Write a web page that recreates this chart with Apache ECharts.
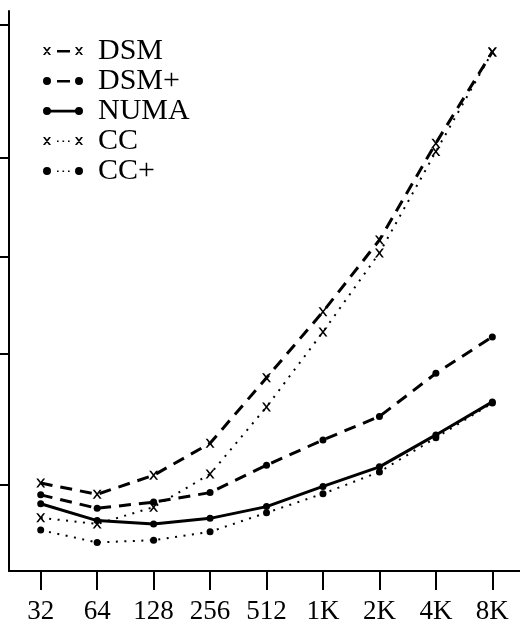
<!DOCTYPE html>
<html>
<head>
<meta charset="utf-8">
<script src="https://cdn.jsdelivr.net/npm/echarts@6/dist/echarts.min.js"></script>
<style>html,body{margin:0;padding:0;background:#fff;}#c{width:520px;height:630px;}</style>
</head>
<body>
<div id="c"></div>
<script>
// Categories (problem sizes)
var xLabels = ['32', '64', '128', '256', '512', '1K', '2K', '4K', '8K'];
// Series values (arbitrary linear units)
var dsm     = [15.7, 13.7, 17.1, 22.8, 34.5, 46.3, 59.1, 76.4, 92.7];
var dsmPlus = [13.6, 11.2, 12.3, 14.0, 18.9, 23.4, 27.6, 35.3, 41.8];
var numa    = [12.0,  9.0,  8.4,  9.4, 11.5, 15.1, 18.6, 24.3, 30.2];
var cc      = [ 9.5,  8.4, 11.4, 17.3, 29.3, 42.7, 56.8, 74.9, 92.7];
var ccPlus  = [ 7.3,  5.1,  5.5,  7.0, 10.4, 13.8, 17.7, 23.8, 30.0];
// Y tick positions (labels are cut off in the original)
var yTicks = [15.4, 38.8, 56.1, 73.8, 97.5];
var xTicks = [0, 1, 2, 3, 4, 5, 6, 7, 8];

function pts(arr) { return arr.map(function (v, i) { return [i, v]; }); }

var XSYM = 'path://M0,0L2.2,0L10,10L7.8,10ZM7.8,0L10,0L2.2,10L0,10Z';
var ICON_X = 'M0,2L2,2L8,10L6,10ZM6,2L8,2L2,10L0,10Z';
var ICON_X_R = 'M32,2L34,2L40,10L38,10ZM38,2L40,2L34,10L32,10Z';
var ICON_D = 'M0,6A4,4,0,1,1,8,6A4,4,0,1,1,0,6Z';
var ICON_D_R = 'M32,6A4,4,0,1,1,40,6A4,4,0,1,1,32,6Z';
var DASH = 'M14,5L27,5L27,7.4L14,7.4Z';
var DOTS = 'M14,5.5L15.6,5.5L15.6,7.1L14,7.1ZM19.5,5.5L21.1,5.5L21.1,7.1L19.5,7.1ZM25,5.5L26.6,5.5L26.6,7.1L25,7.1Z';
var SOLID = 'M6,4.8L34,4.8L34,7.4L6,7.4Z';

var font = 'Liberation Serif';
var chart = echarts.init(document.getElementById('c'), null, { renderer: 'canvas' });
chart.setOption({
  animation: false,
  backgroundColor: '#fff',
  grid: { left: 9, right: 0, top: 11, bottom: 59, containLabel: false },
  legend: {
    orient: 'vertical',
    left: 38,
    top: 31,
    itemWidth: 40,
    itemHeight: 9,
    itemGap: 0,
    itemStyle: { borderWidth: 0 },
    textStyle: { fontFamily: font, fontSize: 30, color: '#000', lineHeight: 27, padding: [0, 0, 0, 10] },
    data: [
      { name: 'DSM',  icon: 'path://' + ICON_X + DASH + ICON_X_R },
      { name: 'DSM+', icon: 'path://' + ICON_D + DASH + ICON_D_R },
      { name: 'NUMA', icon: 'path://' + ICON_D + SOLID + ICON_D_R },
      { name: 'CC',   icon: 'path://' + ICON_X + DOTS + ICON_X_R },
      { name: 'CC+',  icon: 'path://' + ICON_D + DOTS + ICON_D_R }
    ]
  },
  xAxis: {
    type: 'value',
    min: -0.5615,
    max: 8.49,
    splitLine: { show: false },
    axisLine: { show: true, onZero: false, lineStyle: { color: '#000', width: 2 } },
    axisTick: { show: true, customValues: xTicks, length: 19, lineStyle: { color: '#000', width: 2 } },
    axisLabel: {
      show: true, customValues: xTicks, margin: 27,
      formatter: function (v) { return xLabels[Math.round(v)]; },
      fontFamily: font, fontSize: 27, color: '#000'
    }
  },
  yAxis: {
    type: 'value',
    min: 0,
    max: 100,
    splitLine: { show: false },
    axisLine: { show: true, onZero: false, lineStyle: { color: '#000', width: 2 } },
    axisTick: { show: true, customValues: yTicks, length: 9, lineStyle: { color: '#000', width: 2 } },
    axisLabel: { show: false }
  },
  series: [
    { name: 'DSM', type: 'line', data: pts(dsm), symbol: XSYM, symbolSize: 9,
      itemStyle: { color: '#000', borderWidth: 0 },
      lineStyle: { color: '#000', width: 3, type: [12, 8] } },
    { name: 'DSM+', type: 'line', data: pts(dsmPlus), symbol: 'circle', symbolSize: 7,
      itemStyle: { color: '#000', borderWidth: 0 },
      lineStyle: { color: '#000', width: 3, type: [12, 8] } },
    { name: 'NUMA', type: 'line', data: pts(numa), symbol: 'circle', symbolSize: 7,
      itemStyle: { color: '#000', borderWidth: 0 },
      lineStyle: { color: '#000', width: 3, type: 'solid' } },
    { name: 'CC', type: 'line', data: pts(cc), symbol: XSYM, symbolSize: 9,
      itemStyle: { color: '#000', borderWidth: 0 },
      lineStyle: { color: '#000', width: 2, type: [2, 6.5] } },
    { name: 'CC+', type: 'line', data: pts(ccPlus), symbol: 'circle', symbolSize: 7,
      itemStyle: { color: '#000', borderWidth: 0 },
      lineStyle: { color: '#000', width: 2, type: [2, 6.5] } }
  ]
});
</script>
</body>
</html>
